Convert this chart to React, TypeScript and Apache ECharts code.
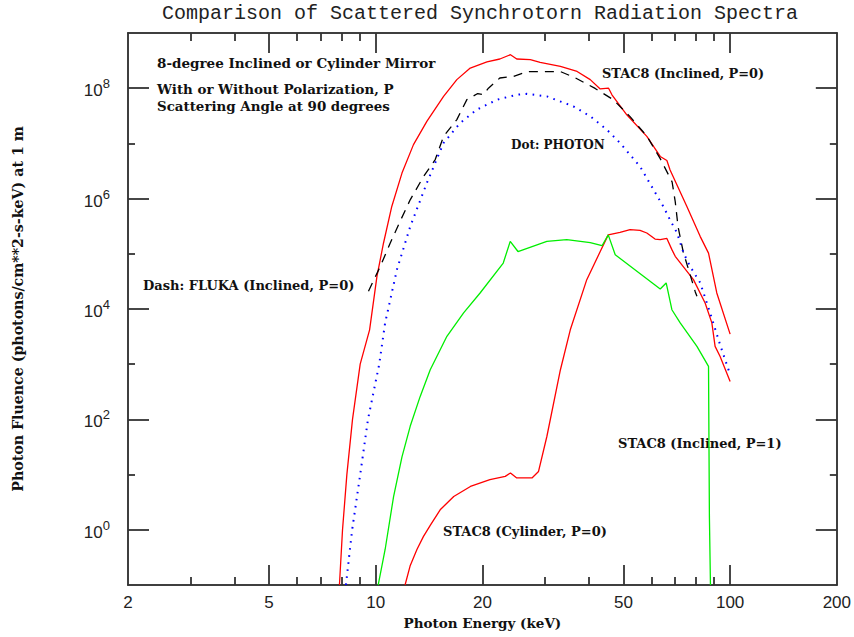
import React, { useEffect, useRef } from "react";
import * as echarts from "echarts";

// ---- axis ticks ----
const xLabels = [2, 5, 10, 20, 50, 100, 200];
const xMajor = [5, 10, 20, 50, 100];
const xMinor = [3, 4, 6, 7, 8, 9, 30, 40, 60, 70, 80, 90];
const yMajor = [1, 1e2, 1e4, 1e6, 1e8];
const yMinor = [10, 1e3, 1e5, 1e7];

// ---- STAC8 (Inclined, P=0) : red solid ----
const stacIncP0E = [7.9, 8.06, 8.29, 8.6, 9.04, 9.61, 10.08, 10.52, 11.1, 11.86, 12.78, 13.94, 15.54, 16.94, 18.48, 20.6, 22.4, 24.0, 25.0, 27.3, 29.1, 33.2, 37.0, 40.3, 43.0, 45.4, 46.4, 51.1, 58.2, 63.5, 66.3, 67.7, 75.5, 82.3, 86.9, 91.7, 100];
const stacIncP0Y = [0.1, 1, 10, 100, 1000, 4.2e3, 3.9e4, 1.57e5, 7.2e5, 2.9e6, 9.5e6, 2.5e7, 7.1e7, 1.43e8, 2.32e8, 2.99e8, 3.38e8, 4.05e8, 3.38e8, 3.28e8, 2.93e8, 2.48e8, 2.01e8, 1.43e8, 9.7e7, 1.0e8, 7.6e7, 3.3e7, 1.34e7, 5.8e6, 4.9e6, 3.3e6, 7.2e5, 2.07e5, 1.03e5, 1.95e4, 3.5e3];

// ---- STAC8 (Inclined, P=1) : red solid ----
const stacIncP1E = [12.1, 12.5, 13.07, 13.64, 14.25, 15.2, 16.6, 18.5, 21.0, 23.2, 24.0, 25.0, 27.6, 28.8, 30.4, 33.2, 35.4, 39.4, 43.0, 45.3, 48.9, 52.2, 55.7, 58.2, 61.4, 63.5, 66.3, 68.5, 70.0, 78.8, 85.0, 88.8, 90.7, 93.7, 100];
const stacIncP1Y = [0.1, 0.22, 0.44, 0.76, 1.2, 2.3, 4.0, 6.1, 8.1, 9.3, 10.7, 8.7, 8.7, 11.4, 49, 794, 4.2e3, 3.4e4, 1.1e5, 2.2e5, 2.44e5, 2.73e5, 2.66e5, 2.38e5, 1.85e5, 1.8e5, 1.9e5, 1.19e5, 9.0e4, 3.4e4, 1.28e4, 5.6e3, 2.1e3, 1.38e3, 488];

// ---- STAC8 (Cylinder, P=0) : green solid ----
const stacCylE = [10.16, 10.63, 11.23, 11.86, 12.51, 13.35, 14.25, 15.88, 17.7, 19.7, 22.9, 23.96, 25.2, 30.4, 34.6, 40.3, 43.5, 45.3, 47.4, 63.5, 66.0, 68.5, 72.3, 80.6, 86.9, 87.4, 88.0];
const stacCylY = [0.1, 0.44, 4.0, 21, 75, 261, 794, 3.2e3, 8.5e3, 1.95e4, 6.8e4, 1.68e5, 1.1e5, 1.68e5, 1.8e5, 1.59e5, 1.4e5, 2.2e5, 9.6e4, 2.3e4, 2.96e4, 9.7e3, 5.6e3, 2.1e3, 912, 1.75, 0.1];

// ---- FLUKA (Inclined, P=0) : black dashed ----
const flukaE = [9.54, 10.3, 10.99, 11.72, 12.51, 13.64, 14.72, 15.54, 16.94, 18.08, 19.4, 20.1, 20.8, 22.4, 24.5, 26.7, 29.1, 33.2, 36.5, 41.6, 46.8, 52.2, 58.3, 63.5, 68.6, 70.0, 71.3, 73.7, 77.1, 79.7, 80.6];
const flukaY = [2.1e4, 5.9e4, 1.57e5, 3.9e5, 9.5e5, 2.5e6, 5.1e6, 1.34e7, 2.7e7, 6.2e7, 8.0e7, 7.6e7, 1.0e8, 1.53e8, 1.64e8, 2.0e8, 2.0e8, 2.0e8, 1.55e8, 9.9e7, 6.2e7, 3.05e7, 1.34e7, 5.3e6, 2.0e6, 8.8e5, 3.1e5, 1.09e5, 4.2e4, 2.06e4, 1.7e4];

// ---- PHOTON : blue dotted ----
const photonE = [8.24, 8.58, 9.04, 9.51, 10.23, 10.63, 11.48, 12.51, 13.94, 15.54, 17.3, 19.3, 22.0, 25.0, 26.7, 30.4, 36.1, 40.3, 44.9, 48.9, 55.7, 60.8, 64.8, 67.7, 70.8, 73.9, 77.1, 82.3, 87.8, 93.7, 100];
const photonY = [0.1, 1, 10, 100, 1000, 5.6e3, 5.2e4, 3.1e5, 1.92e6, 1.02e7, 2.34e7, 4.1e7, 6.2e7, 7.6e7, 7.9e7, 7.1e7, 4.7e7, 3.1e7, 1.77e7, 1.02e7, 3.8e6, 1.45e6, 7.2e5, 4.1e5, 2.4e5, 1.03e5, 5.9e4, 3.0e4, 8.5e3, 2.25e3, 650];

const X_MIN = 2;
const X_MAX = 200;
const Y_MIN = 0.1;
const Y_MAX = 1e9;

const TITLE = "Comparison of Scattered Synchrotorn Radiation Spectra";
const X_NAME = "Photon Energy (keV)";
const Y_NAME = "Photon Fluence (photons/cm**2-s-keV) at 1 m";

const NOTES: string[] = [
  "8-degree Inclined or Cylinder Mirror",
  "With or Without Polarization, P",
  "Scattering Angle at 90 degrees",
  "Dash: FLUKA (Inclined, P=0)",
  "Dot: PHOTON",
  "STAC8 (Inclined, P=0)",
  "STAC8 (Inclined, P=1)",
  "STAC8 (Cylinder, P=0)",
];
// layout of the notes: [x, y, fontSize]
const NOTE_LAYOUT: [number, number, number][] = [
  [157, 63, 13.5],
  [157, 89, 13.4],
  [157, 106, 13.4],
  [143, 285, 13],
  [511, 145, 12],
  [602, 73, 12.9],
  [618, 443, 13],
  [443, 531, 13],
];

const zip = (xs: number[], ys: number[]) => xs.map((x, i) => [x, ys[i]]);

const AX = "#333333";
const TICK_W = 1.8;
const SERIF_BOLD = { fontFamily: "DejaVu Serif", fontWeight: "bold" as const };
const HIDDEN_SPLIT = { show: true, lineStyle: { color: "rgba(0,0,0,0)" } };

function tickAxis(kind: "x" | "y", position: string, ticks: number[], len: number) {
  return {
    type: "log",
    min: kind === "x" ? X_MIN : Y_MIN,
    max: kind === "x" ? X_MAX : Y_MAX,
    position,
    axisLine: { show: true, lineStyle: { color: AX, width: 1.5 } },
    axisTick: { show: true, inside: true, length: len, customValues: ticks, lineStyle: { color: AX, width: TICK_W } },
    axisLabel: { show: false },
    splitLine: HIDDEN_SPLIT,
  };
}

export default function App() {
  const ref = useRef<HTMLDivElement>(null);
  useEffect(() => {
    document.body.style.margin = "0";
    if (!ref.current) return;
    const chart = echarts.init(ref.current, null, { renderer: "svg" });
    chart.setOption({
      animation: false,
      backgroundColor: "#fff",
      title: {
        text: TITLE,
        left: 162,
        top: 3,
        padding: 0,
        textStyle: { fontFamily: "Liberation Mono", fontSize: 20, fontWeight: "normal", color: "#222" },
      },
      grid: { left: 128, top: 33, width: 709, height: 552 },
      xAxis: [
        {
          type: "log",
          min: X_MIN,
          max: X_MAX,
          position: "bottom",
          axisLine: { show: true, lineStyle: { color: AX, width: 1.5 } },
          axisTick: { show: true, inside: true, length: 20, customValues: xMajor, lineStyle: { color: AX, width: TICK_W } },
          axisLabel: {
            show: true,
            customValues: xLabels,
            margin: 9,
            fontSize: 17,
            fontFamily: "Liberation Sans",
            color: "#222",
            formatter: (v: number) => String(Math.round(v)),
          },
          splitLine: HIDDEN_SPLIT,
          name: X_NAME,
          nameLocation: "middle",
          nameGap: 31,
          nameTextStyle: { ...SERIF_BOLD, fontSize: 13.5, color: "#111" },
        },
        tickAxis("x", "top", xMajor, 20),
        tickAxis("x", "bottom", xMinor, 8),
        tickAxis("x", "top", xMinor, 8),
      ],
      yAxis: [
        {
          type: "log",
          min: Y_MIN,
          max: Y_MAX,
          position: "left",
          axisLine: { show: true, lineStyle: { color: AX, width: 1.5 } },
          axisTick: { show: true, inside: true, length: 21, customValues: yMajor, lineStyle: { color: AX, width: TICK_W } },
          axisLabel: {
            show: true,
            customValues: yMajor,
            margin: 18,
            color: "#222",
            formatter: (v: number) => `{b|10}{s|${Math.round(Math.log10(v))}}`,
            rich: {
              b: { fontSize: 17, fontFamily: "Liberation Sans", color: "#222", lineHeight: 22, verticalAlign: "bottom" },
              s: { fontSize: 13, fontFamily: "Liberation Sans", color: "#222", lineHeight: 22, verticalAlign: "top" },
            },
          },
          splitLine: HIDDEN_SPLIT,
          name: Y_NAME,
          nameLocation: "middle",
          nameGap: 103,
          nameRotate: 90,
          nameTextStyle: { ...SERIF_BOLD, fontSize: 14.2, color: "#111" },
        },
        tickAxis("y", "right", yMajor, 21),
        tickAxis("y", "left", yMinor, 7),
        tickAxis("y", "right", yMinor, 7),
      ],
      series: [
        {
          name: "STAC8 (Inclined, P=0)",
          type: "line",
          data: zip(stacIncP0E, stacIncP0Y),
          showSymbol: false,
          lineStyle: { color: "#ff0000", width: 1.3 },
        },
        {
          name: "STAC8 (Inclined, P=1)",
          type: "line",
          data: zip(stacIncP1E, stacIncP1Y),
          showSymbol: false,
          lineStyle: { color: "#ff0000", width: 1.3 },
        },
        {
          name: "STAC8 (Cylinder, P=0)",
          type: "line",
          data: zip(stacCylE, stacCylY),
          showSymbol: false,
          lineStyle: { color: "#00ee00", width: 1.3 },
        },
        {
          name: "FLUKA (Inclined, P=0)",
          type: "line",
          data: zip(flukaE, flukaY),
          showSymbol: false,
          lineStyle: { color: "#000", width: 1.3, type: [9, 7] },
        },
        {
          name: "PHOTON",
          type: "line",
          data: zip(photonE, photonY),
          showSymbol: false,
          lineStyle: { color: "#0000ff", width: 2, type: [1.6, 5.5] },
        },
      ],
      graphic: NOTES.map((text, i) => ({
        type: "text",
        x: NOTE_LAYOUT[i][0],
        y: NOTE_LAYOUT[i][1],
        style: {
          text,
          ...SERIF_BOLD,
          fontSize: NOTE_LAYOUT[i][2],
          fill: "#111",
          verticalAlign: "middle",
          align: "left",
        },
      })),
    });
    return () => chart.dispose();
  }, []);
  return <div ref={ref} style={{ width: 854, height: 637 }} />;
}
